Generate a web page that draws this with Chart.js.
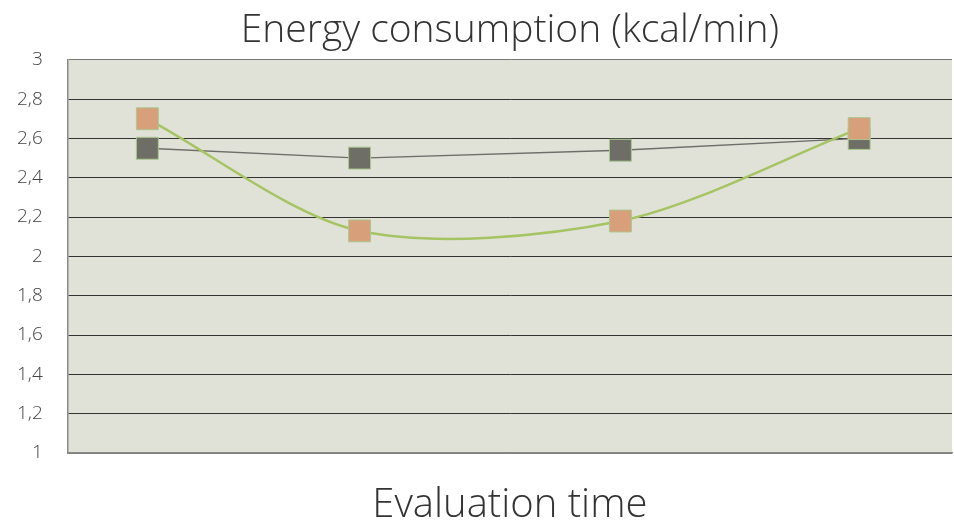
<!DOCTYPE html>
<html>
<head>
<meta charset="utf-8">
<script src="https://cdn.jsdelivr.net/npm/chart.js@4/dist/chart.umd.min.js"></script>
<style>
  html, body { margin: 0; padding: 0; background: #fff; }
  #wrap { width: 954px; height: 521px; }
</style>
</head>
<body>
<div id="wrap"><canvas id="energyChart"></canvas></div>
<script>
const xPositions = [0.9, 3.3, 6.25, 8.95];
const greySeries = [2.55, 2.50, 2.54, 2.60];
const orangeSeries = [2.70, 2.13, 2.18, 2.65];
const yTicks = [1, 1.2, 1.4, 1.6, 1.8, 2, 2.2, 2.4, 2.6, 2.8, 3];
const yTickLabels = ["1", "1,2", "1,4", "1,6", "1,8", "2", "2,2", "2,4", "2,6", "2,8", "3"];

const fontFamily = "'Open Sans', 'Lato', sans-serif";

// fill plot area with the pale green/grey background
const plotBg = {
  id: 'plotBg',
  beforeDraw(chart) {
    const { ctx, chartArea: a } = chart;
    ctx.save();
    ctx.fillStyle = '#e0e2d8';
    ctx.fillRect(a.left, a.top, a.right - a.left, a.bottom - a.top);
    ctx.restore();
  }
};

new Chart(document.getElementById('energyChart'), {
  type: 'line',
  data: {
    datasets: [{
      label: 'B',
      data: xPositions.map((x, i) => ({ x: x, y: orangeSeries[i] })),
      borderColor: '#a5c462',
      borderWidth: 2.5,
      tension: 0.3,
      pointStyle: 'rect',
      pointRadius: 15.5,
      pointBackgroundColor: '#d89f7b',
      pointBorderColor: '#aac78f',
      pointBorderWidth: 1
    }, {
      label: 'A',
      data: xPositions.map((x, i) => ({ x: x, y: greySeries[i] })),
      borderColor: '#6e6d68',
      borderWidth: 1.3,
      tension: 0,
      pointStyle: 'rect',
      pointRadius: 15.5,
      pointBackgroundColor: '#6e6d66',
      pointBorderColor: '#aac78f',
      pointBorderWidth: 1
    }]
  },
  options: {
    responsive: true,
    maintainAspectRatio: false,
    animation: false,
    layout: { autoPadding: false, padding: { left: -8, right: 2, top: 0, bottom: 0 } },
    plugins: {
      legend: { display: false },
      tooltip: { enabled: false },
      title: {
        display: true,
        fullSize: false,
        text: 'Energy consumption (kcal/min)',
        color: '#333',
        font: { family: fontFamily, size: 39, weight: '300', lineHeight: 1.2 },
        padding: { top: 7, bottom: 6 }
      }
    },
    scales: {
      x: {
        type: 'linear',
        min: 0,
        max: 10,
        ticks: { display: false },
        grid: { display: false },
        border: { display: true, color: '#888', width: 1.5 },
        title: {
          display: true,
          text: 'Evaluation time',
          color: '#333',
          font: { family: fontFamily, size: 40, weight: '300', lineHeight: 1 },
          padding: { top: 25, bottom: -5 }
        }
      },
      y: {
        min: 1,
        max: 3,
        afterBuildTicks(axis) {
          axis.ticks = yTicks.map(v => ({ value: v }));
        },
        ticks: {
          color: '#444',
          font: { family: fontFamily, size: 19, weight: '300' },
          padding: 25,
          callback: (v) => yTickLabels[yTicks.indexOf(Number(v.toFixed(1)))]
        },
        grid: {
          drawTicks: false,
          color: (c) => (c.tick && (c.tick.value === 3 || c.tick.value === 1)) ? '#777' : '#333',
          lineWidth: 1
        },
        border: { display: true, color: '#888', width: 1.5 }
      }
    }
  },
  plugins: [plotBg]
});
</script>
</body>
</html>
